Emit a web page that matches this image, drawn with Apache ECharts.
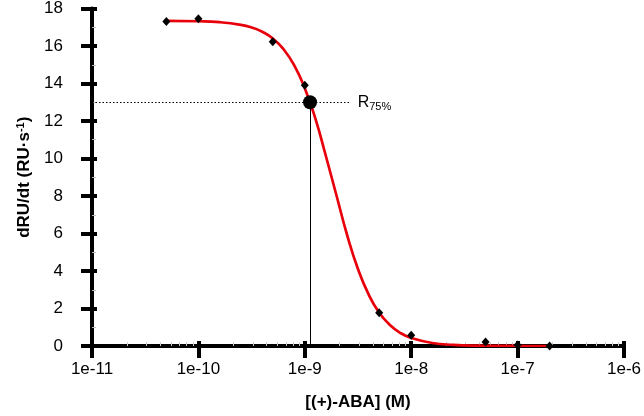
<!DOCTYPE html>
<html>
<head>
<meta charset="utf-8">
<script src="https://cdn.jsdelivr.net/npm/echarts@6/dist/echarts.min.js"></script>
<style>html,body{margin:0;padding:0;background:#fff}#c{width:644px;height:416px}</style>
</head>
<body>
<div id="c"></div>
<script>
const xTickLabels = ['1e-11','1e-10','1e-9','1e-8','1e-7','1e-6'];
const pointX = [5e-11, 1e-10, 5e-10, 1e-9, 5e-9, 1e-8, 5e-8, 1e-7, 2e-7];
const pointY = [17.31, 17.45, 16.23, 13.91, 1.78, 0.58, 0.21, 0.05, 0.0];
const curveX = [5e-11, 1e-10, 1.58e-10, 2.51e-10, 3.16e-10, 3.98e-10, 5.01e-10, 6.31e-10, 7.94e-10, 1e-9, 1.26e-9, 1.58e-9, 2.0e-9, 2.51e-9, 3.16e-9, 3.98e-9, 5.01e-9, 6.31e-9, 7.94e-9, 1e-8, 1.58e-8, 2.51e-8, 3.98e-8, 1e-7, 2e-7];
const curveY = [17.34, 17.32, 17.27, 17.13, 16.99, 16.76, 16.40, 15.83, 14.98, 13.75, 12.11, 10.12, 7.96, 5.88, 4.11, 2.75, 1.77, 1.12, 0.69, 0.43, 0.16, 0.06, 0.02, 0.003, 0.0007];
const r75X = 1.12e-9;
const r75Y = 13;
const r75LineEndX = 2.7e-9;
const xMin = 1e-11, xMax = 1e-6;
const yMin = 0, yMax = 18, yStep = 2;

const font = 'Liberation Sans, Arial, sans-serif';
const chart = echarts.init(document.getElementById('c'), null, {renderer: 'canvas'});
const zip = (a, b) => a.map((v, i) => [v, b[i]]);

const xBase = {
  type: 'log', logBase: 10, min: xMin, max: xMax, gridIndex: 0, position: 'bottom',
  splitLine: {show: false}
};
const yBase = {
  type: 'value', min: yMin, max: yMax, interval: yStep, gridIndex: 0, position: 'left',
  splitLine: {show: false}
};

chart.setOption({
  animation: false,
  backgroundColor: '#fff',
  grid: {left: 92, right: 16, top: 6, bottom: 66, containLabel: false},
  xAxis: [
    Object.assign({}, xBase, {
      name: '[(+)-ABA] (M)', nameLocation: 'middle', nameGap: 48,
      nameTextStyle: {fontFamily: font, fontSize: 17, fontWeight: 'bold', color: '#000'},
      axisLine: {show: true, lineStyle: {color: '#000', width: 4}},
      axisTick: {show: true, inside: false, length: 12, lineStyle: {color: '#000', width: 4}},
      axisLabel: {margin: 15, fontFamily: font, fontSize: 17, color: '#000',
        formatter: v => xTickLabels[Math.round(Math.log10(v)) - Math.round(Math.log10(xMin))]}
    }),
    Object.assign({}, xBase, {
      axisLine: {show: false},
      axisTick: {show: true, inside: true, length: 5, lineStyle: {color: '#000', width: 4}},
      minorTick: {show: true, splitNumber: 8, length: 4, lineStyle: {color: '#ccc', width: 1}},
      axisLabel: {show: false}
    })
  ],
  yAxis: [
    Object.assign({}, yBase, {
      name: 'dRU/dt (RU·s{sup|-1})', nameLocation: 'middle', nameGap: 58, nameRotate: 90,
      nameTextStyle: {fontFamily: font, fontSize: 17, fontWeight: 'bold', color: '#000',
        rich: {sup: {fontFamily: font, fontSize: 11, fontWeight: 'bold', color: '#000', verticalAlign: 'top', padding: [0, 0, 8, 0]}}},
      axisLine: {show: true, lineStyle: {color: '#000', width: 4}},
      axisTick: {show: true, inside: false, length: 11, lineStyle: {color: '#000', width: 4}},
      axisLabel: {margin: 29, fontFamily: font, fontSize: 17, color: '#000'}
    }),
    Object.assign({}, yBase, {
      axisLine: {show: false},
      axisTick: {show: true, inside: true, length: 5, lineStyle: {color: '#000', width: 4}},
      minorTick: {show: true, splitNumber: 2, length: 4, lineStyle: {color: '#bbb', width: 1}},
      axisLabel: {show: false}
    })
  ],
  series: [
    {
      type: 'line', xAxisIndex: 0, yAxisIndex: 0, data: zip(curveX, curveY),
      smooth: true, symbol: 'none', lineStyle: {color: '#e8000b', width: 2.7}, z: 3,
      markLine: {
        silent: true, symbol: 'none', animation: false,
        data: [
          [{coord: [xMin, r75Y], lineStyle: {type: [1.5, 2], color: '#000', width: 1}, label: {show: false}},
           {coord: [r75LineEndX, r75Y]}],
          [{coord: [r75X, yMin], lineStyle: {type: 'solid', color: '#000', width: 1}, label: {show: false}},
           {coord: [r75X, r75Y]}]
        ]
      }
    },
    {
      type: 'scatter', xAxisIndex: 0, yAxisIndex: 0, data: zip(pointX, pointY),
      symbol: 'diamond', symbolSize: [8, 9], itemStyle: {color: '#000', opacity: 1}, z: 4
    },
    {
      type: 'scatter', xAxisIndex: 0, yAxisIndex: 0, data: [[r75X, r75Y]],
      symbol: 'circle', symbolSize: 14, itemStyle: {color: '#000', opacity: 1}, z: 5
    },
    {
      type: 'scatter', xAxisIndex: 0, yAxisIndex: 0, data: [[r75LineEndX, r75Y]],
      symbolSize: 0, z: 5, itemStyle: {opacity: 1},
      label: {show: true, position: 'right', distance: 7, formatter: 'R{sub|75%}',
        fontFamily: font, fontSize: 16, color: '#000',
        rich: {sub: {fontFamily: font, fontSize: 11, color: '#000', verticalAlign: 'bottom', padding: [9, 0, 0, 0]}}}
    }
  ]
});
</script>
</body>
</html>
